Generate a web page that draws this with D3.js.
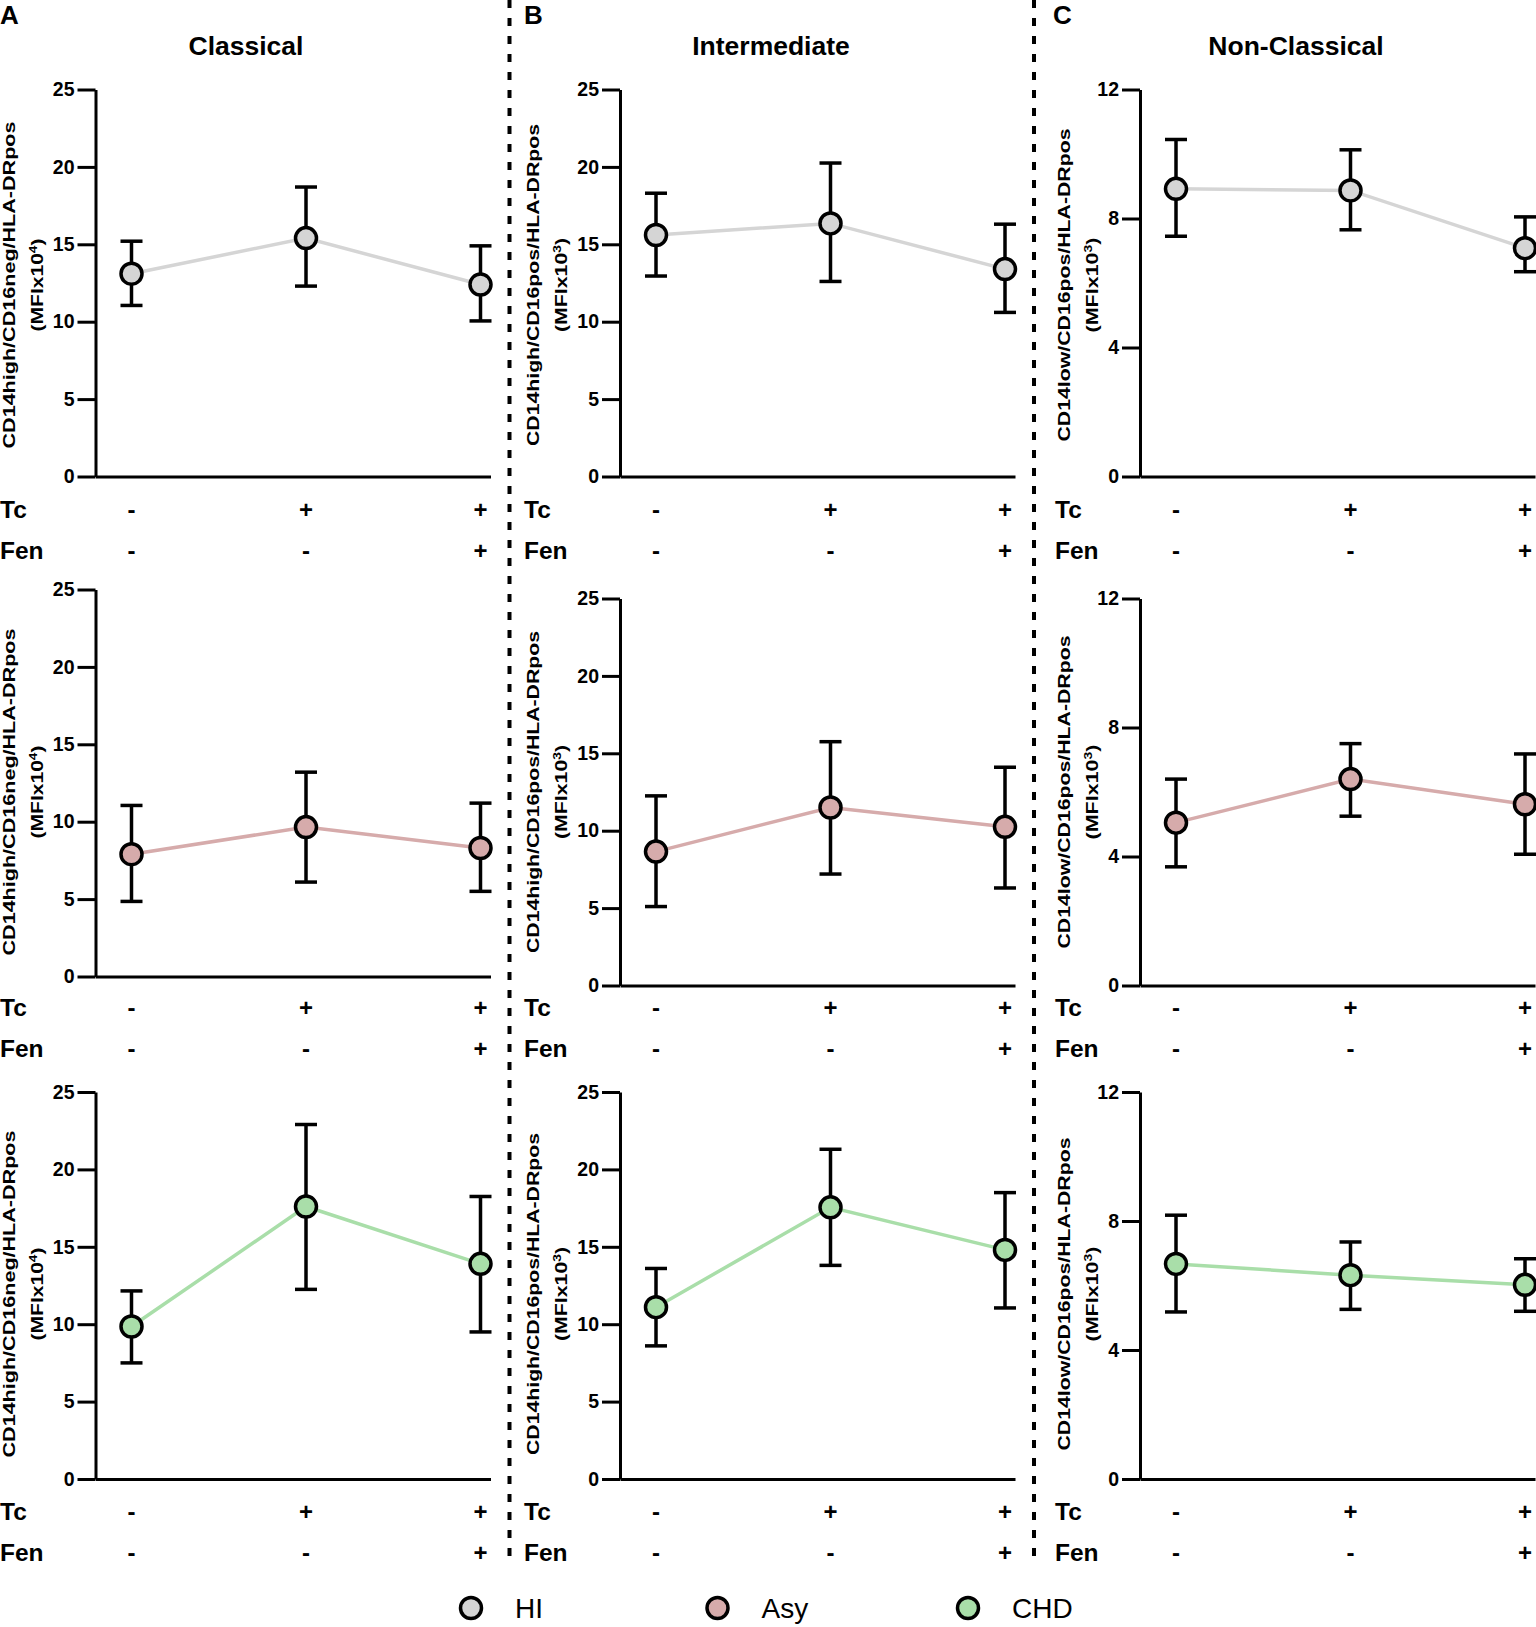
<!DOCTYPE html>
<html>
<head>
<meta charset="utf-8">
<script src="https://cdn.jsdelivr.net/npm/d3@7"></script>
<style>
  body { margin: 0; background: #fff; }
  svg { display: block; font-family: "Liberation Sans", Arial, sans-serif; }
</style>
</head>
<body>
<script>
// monocyte subsets (columns) x groups (rows), MFI mean with upper/lower error

var conditions = ["Tc-/Fen-", "Tc+/Fen-", "Tc+/Fen+"];
var tcLabels = ["-", "+", "+"];
var fenLabels = ["-", "-", "+"];
var groups = ["HI", "Asy", "CHD"];
var subsets = ["Classical", "Intermediate", "Non-Classical"];
var panelLetters = ["A", "B", "C"];
var yTitles = ["CD14high/CD16neg/HLA-DRpos", "CD14high/CD16pos/HLA-DRpos", "CD14low/CD16pos/HLA-DRpos"];
var yExponents = ["4", "3", "3"];
var yMax = [25, 25, 12];
var yTicks = [[0, 5, 10, 15, 20, 25], [0, 5, 10, 15, 20, 25], [0, 4, 8, 12]];

// Classical (MFI x10^4), one array per group: HI, Asy, CHD
var classicalMean = [[13.1, 15.4, 12.4], [7.9, 9.65, 8.3], [9.85, 17.6, 13.9]];
var classicalUpper = [[15.2, 18.7, 14.9], [11.05, 13.2, 11.2], [12.15, 22.9, 18.25]];
var classicalLower = [[11.05, 12.3, 10.05], [4.85, 6.1, 5.5], [7.5, 12.25, 9.5]];

// Intermediate (MFI x10^3)
var intermediateMean = [[15.6, 16.35, 13.4], [8.65, 11.5, 10.25], [11.1, 17.55, 14.8]];
var intermediateUpper = [[18.3, 20.25, 16.3], [12.25, 15.75, 14.1], [13.6, 21.3, 18.5]];
var intermediateLower = [[12.95, 12.6, 10.6], [5.1, 7.2, 6.3], [8.6, 13.8, 11.05]];

// Non-Classical (MFI x10^3)
var nonClassicalMean = [[8.92, 8.87, 7.08], [5.05, 6.4, 5.62], [6.67, 6.32, 6.02]];
var nonClassicalUpper = [[10.45, 10.13, 8.05], [6.4, 7.5, 7.18], [8.18, 7.35, 6.83]];
var nonClassicalLower = [[7.45, 7.65, 6.35], [3.68, 5.25, 4.07], [5.18, 5.26, 5.2]];

var means = [classicalMean, intermediateMean, nonClassicalMean];
var uppers = [classicalUpper, intermediateUpper, nonClassicalUpper];
var lowers = [classicalLower, intermediateLower, nonClassicalLower];

// group colours
var color = d3.scaleOrdinal()
  .domain(groups)
  .range(["#d5d5d5", "#d6abab", "#a9dea9"]);

// layout
var width = 1536, height = 1627;
var axisX = [95.5, 620, 1140];          // y-axis position per column
var panelTop = [[89.5, 89.5, 89.5], [589.5, 598.5, 598.5], [1092, 1092, 1092]];
var panelH = 387;
var axisLen = 395;
var tcY = [509, 1007, 1511], fenY = [550, 1048, 1552];
var rowLabelX = [0, 524, 1055];
var titleLine1 = [14.5, 539, 1070], titleLine2 = [43, 567, 1098];
var titleLen1 = [327, 322, 313], titleLen2 = [93, 94, 95];
var titleCY = [285, 792, 1294];
var titleX = [246, 771, 1296];
var letterX = [0, 524, 1053];
var dividerX = [509.5, 1034];

var svg = d3.select("body").append("svg")
  .attr("width", width)
  .attr("height", height);

// dotted separators between subsets
svg.selectAll(".divider").data(dividerX).enter().append("line")
  .attr("class", "divider")
  .attr("x1", function (d) { return d; })
  .attr("x2", function (d) { return d; })
  .attr("y1", 0)
  .attr("y2", 1562)
  .attr("stroke", "#000")
  .attr("stroke-width", 4)
  .attr("stroke-dasharray", "8,10");

// column headers
subsets.forEach(function (s, c) {
  svg.append("text")
    .attr("x", letterX[c]).attr("y", 24)
    .attr("font-size", 26).attr("font-weight", "bold")
    .text(panelLetters[c]);
  svg.append("text")
    .attr("x", titleX[c]).attr("y", 55)
    .attr("text-anchor", "middle")
    .attr("font-size", 26.5).attr("font-weight", "bold")
    .text(s);
});

groups.forEach(function (g, r) {
  subsets.forEach(function (s, c) {
    var top = panelTop[r][c], bottom = top + panelH;
    var x0 = axisX[c];

    var y = d3.scaleLinear().domain([0, yMax[c]]).range([bottom, top]);
    var x = d3.scalePoint().domain(conditions).range([x0 + 36, x0 + 385]);
    var xLine = d3.scaleLinear().range([x0, x0 + axisLen]);

    var pts = conditions.map(function (k, i) {
      return { cond: k, mean: means[c][r][i], hi: uppers[c][r][i], lo: lowers[c][r][i] };
    });

    // y axis
    var yAxis = svg.append("g")
      .attr("transform", "translate(" + x0 + ",0)")
      .call(d3.axisLeft(y).tickValues(yTicks[c]).tickSize(18).tickSizeOuter(0).tickPadding(3));
    yAxis.select(".domain").attr("stroke-width", 3);
    yAxis.selectAll(".tick line").attr("stroke-width", 3);
    yAxis.selectAll(".tick text")
      .attr("font-family", "Liberation Sans, Arial, sans-serif")
      .attr("font-size", 19.5).attr("font-weight", "bold").attr("fill", "#000");

    // x axis line
    var xAxis = svg.append("g")
      .attr("transform", "translate(0," + bottom + ")")
      .call(d3.axisBottom(xLine).tickValues([]).tickSizeOuter(0));
    xAxis.select(".domain").attr("stroke-width", 3);

    // y axis title
    var t = svg.append("g")
      .attr("transform", "translate(0," + titleCY[r] + ") rotate(-90)")
      .attr("font-weight", "bold").attr("font-size", 17);
    t.append("text")
      .attr("x", 0).attr("y", titleLine1[c])
      .attr("text-anchor", "middle")
      .attr("textLength", titleLen1[c]).attr("lengthAdjust", "spacingAndGlyphs")
      .text(yTitles[c]);
    var t2 = t.append("text")
      .attr("x", 0).attr("y", titleLine2[c])
      .attr("text-anchor", "middle")
      .attr("textLength", titleLen2[c]).attr("lengthAdjust", "spacingAndGlyphs");
    t2.append("tspan").text("(MFIx10");
    t2.append("tspan").attr("baseline-shift", "super").attr("font-size", 11).text(yExponents[c]);
    t2.append("tspan").text(")");

    // treatment rows
    [["Tc", tcLabels, tcY[r]], ["Fen", fenLabels, fenY[r]]].forEach(function (row) {
      svg.append("text")
        .attr("x", rowLabelX[c]).attr("y", row[2] + 8.5)
        .attr("font-size", 24.5).attr("font-weight", "bold")
        .text(row[0]);
      svg.selectAll(null).data(row[1]).enter().append("text")
        .attr("x", function (d, i) { return x(conditions[i]); })
        .attr("y", row[2] + 8.5)
        .attr("text-anchor", "middle")
        .attr("font-size", 24).attr("font-weight", "bold")
        .text(function (d) { return d; });
    });

    // connecting line
    svg.append("path")
      .datum(pts)
      .attr("fill", "none")
      .attr("stroke", color(g))
      .attr("stroke-width", 3.5)
      .attr("d", d3.line()
        .x(function (d) { return x(d.cond); })
        .y(function (d) { return y(d.mean); }));

    // error bars
    var eb = svg.append("g").attr("stroke", "#000").attr("stroke-width", 3.5);
    eb.selectAll(".stem").data(pts).enter().append("line")
      .attr("x1", function (d) { return x(d.cond); })
      .attr("x2", function (d) { return x(d.cond); })
      .attr("y1", function (d) { return y(d.lo); })
      .attr("y2", function (d) { return y(d.hi); });
    ["hi", "lo"].forEach(function (k) {
      eb.selectAll(".cap-" + k).data(pts).enter().append("line")
        .attr("x1", function (d) { return x(d.cond) - 11; })
        .attr("x2", function (d) { return x(d.cond) + 11; })
        .attr("y1", function (d) { return y(d[k]); })
        .attr("y2", function (d) { return y(d[k]); });
    });

    // markers
    svg.selectAll(null).data(pts).enter().append("circle")
      .attr("cx", function (d) { return x(d.cond); })
      .attr("cy", function (d) { return y(d.mean); })
      .attr("r", 10.5)
      .attr("fill", color(g))
      .attr("stroke", "#000")
      .attr("stroke-width", 3.5);
  });
});

// legend
var legendX = [471, 717.5, 968];
var legend = svg.selectAll(".legend").data(groups).enter().append("g")
  .attr("class", "legend")
  .attr("transform", function (d, i) { return "translate(" + legendX[i] + ",1608)"; });
legend.append("circle")
  .attr("r", 10.5)
  .attr("fill", function (d) { return color(d); })
  .attr("stroke", "#000")
  .attr("stroke-width", 3.5);
legend.append("text")
  .attr("x", 44).attr("y", 10)
  .attr("font-size", 28)
  .text(function (d) { return d; });
</script>
</body>
</html>
